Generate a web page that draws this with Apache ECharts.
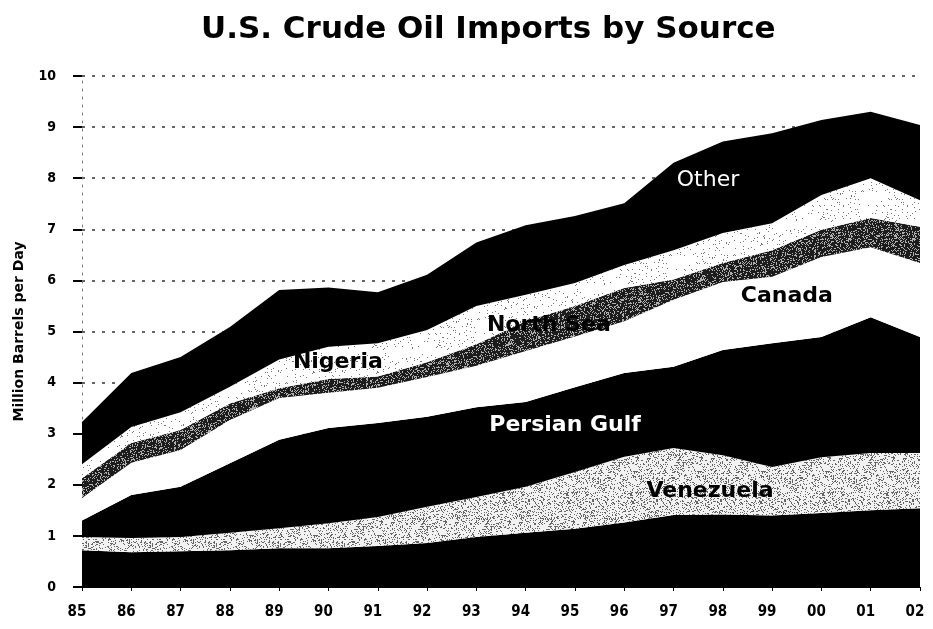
<!DOCTYPE html>
<html>
<head>
<meta charset="utf-8">
<script src="https://cdn.jsdelivr.net/npm/echarts@6/dist/echarts.min.js"></script>
<style>
  html, body { margin: 0; padding: 0; background: #fff; }
  #chart { width: 933px; height: 629px; }
</style>
</head>
<body>
<div id="chart"></div>
<script>
// years on the x axis
var years = ['85', '86', '87', '88', '89', '90', '91', '92', '93', '94', '95', '96', '97', '98', '99', '00', '01', '02'];

// million barrels per day, by source (stacked bottom to top)
var mexico     = [0.72, 0.68, 0.70, 0.72, 0.76, 0.76, 0.80, 0.86, 0.98, 1.06, 1.14, 1.26, 1.41, 1.42, 1.40, 1.45, 1.50, 1.54];
var venezuela  = [0.26, 0.28, 0.28, 0.34, 0.39, 0.49, 0.57, 0.71, 0.78, 0.90, 1.11, 1.29, 1.31, 1.16, 0.95, 1.09, 1.12, 1.08];
var persianGulf = [0.32, 0.84, 0.98, 1.36, 1.73, 1.86, 1.84, 1.76, 1.76, 1.66, 1.66, 1.64, 1.59, 2.06, 2.42, 2.35, 2.66, 2.27];
var canada     = [0.44, 0.63, 0.72, 0.85, 0.82, 0.69, 0.69, 0.78, 0.81, 1.00, 0.99, 1.01, 1.31, 1.33, 1.30, 1.57, 1.37, 1.45];
var northSea   = [0.39, 0.39, 0.39, 0.32, 0.19, 0.27, 0.22, 0.29, 0.42, 0.58, 0.60, 0.65, 0.40, 0.37, 0.52, 0.53, 0.57, 0.71];
var nigeria    = [0.27, 0.31, 0.35, 0.33, 0.56, 0.63, 0.65, 0.63, 0.75, 0.52, 0.45, 0.45, 0.57, 0.59, 0.53, 0.68, 0.78, 0.52];
var other      = [0.83, 1.06, 1.08, 1.17, 1.36, 1.16, 1.00, 1.08, 1.24, 1.36, 1.31, 1.21, 1.71, 1.79, 1.76, 1.47, 1.30, 1.47];

// text labels inside the bands: [x position in years from 85, y value]
var labelNames = ['Other', 'Canada', 'North Sea', 'Nigeria', 'Persian Gulf', 'Venezuela'];
var labelSpots = [[12.70, 7.95], [14.30, 5.69], [9.47, 5.12], [5.19, 4.40], [9.80, 3.17], [12.74, 1.88]];
var labelColors = ['#fff', '#000', '#000', '#000', '#fff', '#000'];
var labelWeights = ['normal', 'bold', 'bold', 'bold', 'bold', 'bold'];

// speckled fill, like the scanned print (fixed pattern, not data)
function speckle(base, dot, density, seed) {
    var c = document.createElement('canvas');
    c.width = 64;
    c.height = 64;
    var ctx = c.getContext('2d');
    ctx.fillStyle = base;
    ctx.fillRect(0, 0, 64, 64);
    ctx.fillStyle = dot;
    var s = seed;
    for (var y = 0; y < 64; y++) {
        for (var x = 0; x < 64; x++) {
            s = (s * 1103515245 + 12345) % 2147483648;
            if (s / 2147483648 < density) ctx.fillRect(x, y, 1, 1);
        }
    }
    return { image: c, repeat: 'repeat' };
}

function layer(name, data, fill) {
    return {
        name: name,
        type: 'line',
        stack: 'total',
        data: data,
        symbol: 'none',
        lineStyle: { width: 0 },
        areaStyle: { color: fill, opacity: 1 },
        emphasis: { disabled: true }
    };
}

var labelData = labelNames.map(function(n, i) {
    return {
        name: n,
        value: labelSpots[i],
        label: { color: labelColors[i], fontWeight: labelWeights[i] }
    };
});

var chart = echarts.init(document.getElementById('chart'));

var option = {
    backgroundColor: '#fff',
    animation: false,
    title: {
        text: 'U.S. Crude Oil Imports by Source',
        left: 196,
        top: 9,
        textStyle: {
            fontFamily: 'DejaVu Sans, sans-serif',
            fontWeight: 'bold',
            fontSize: 31,
            color: '#000'
        }
    },
    grid: { left: 82, right: 13, top: 76, bottom: 42 },
    xAxis: [{
        type: 'category',
        data: years,
        boundaryGap: false,
        axisLine: { lineStyle: { color: '#000', width: 1 } },
        axisTick: { show: true, length: 4, lineStyle: { color: '#000' } },
        axisLabel: {
            margin: 18,
            padding: [0, 10, 0, 0],
            color: '#000',
            fontFamily: 'DejaVu Sans Condensed, DejaVu Sans, sans-serif',
            fontWeight: 'bold',
            fontSize: 15
        },
        splitLine: { show: false }
    }, {
        // hidden linear axis so labels can sit between years
        type: 'value',
        min: 0,
        max: 17,
        show: false
    }],
    yAxis: {
        type: 'value',
        min: 0,
        max: 10,
        interval: 1,
        name: 'Million Barrels per Day',
        nameLocation: 'middle',
        nameGap: 56,
        nameTextStyle: {
            fontFamily: 'DejaVu Sans, sans-serif',
            fontWeight: 'bold',
            fontSize: 14,
            color: '#000'
        },
        axisLine: { show: true, lineStyle: { color: '#777', width: 1, type: [2, 6] } },
        axisTick: { show: true, inside: false, length: 9, lineStyle: { color: '#000', width: 2 } },
        axisLabel: {
            margin: 26,
            color: '#000',
            fontFamily: 'DejaVu Sans Condensed, DejaVu Sans, sans-serif',
            fontWeight: 'bold',
            fontSize: 14
        },
        splitLine: { show: true, lineStyle: { color: '#333', width: 1.5, type: [3, 7] } }
    },
    series: [
        layer('Mexico', mexico, '#000'),
        layer('Venezuela', venezuela, speckle('#f2f2f2', '#666', 0.22, 7)),
        layer('Persian Gulf', persianGulf, '#000'),
        layer('Canada', canada, '#fff'),
        layer('North Sea', northSea, speckle('#1c1c1c', '#b0b0b0', 0.25, 11)),
        layer('Nigeria', nigeria, speckle('#fff', '#777', 0.04, 23)),
        layer('Other', other, '#000'),
        {
            name: 'labels',
            type: 'scatter',
            xAxisIndex: 1,
            symbolSize: 0,
            silent: true,
            itemStyle: { opacity: 1 },
            data: labelData,
            label: {
                show: true,
                position: 'inside',
                formatter: '{b}',
                opacity: 1,
                fontFamily: 'DejaVu Sans, sans-serif',
                fontSize: 22
            },
            z: 10
        }
    ]
};

chart.setOption(option);
</script>
</body>
</html>
